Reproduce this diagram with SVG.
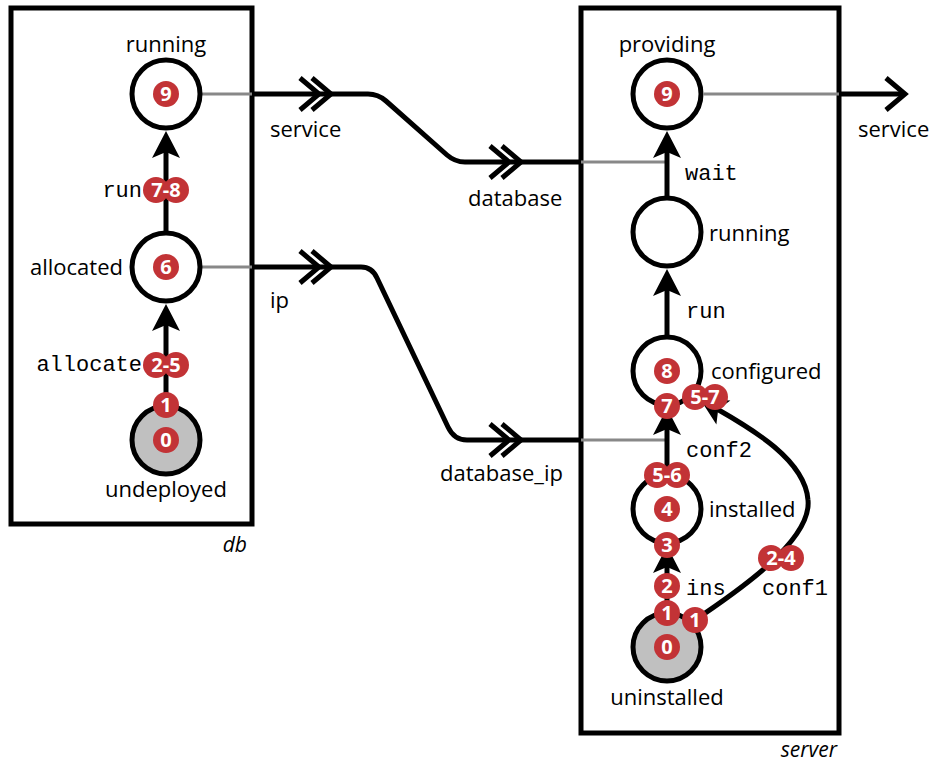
<svg xmlns="http://www.w3.org/2000/svg" xmlns:xlink="http://www.w3.org/1999/xlink" width="929" height="762" viewBox="0 0 929 762">
<defs>
<style>
.box{fill:none;stroke:#000;stroke-width:5}
.st{fill:#fff;stroke:#000;stroke-width:5}
.st0{fill:#c0c0c0;stroke:#000;stroke-width:5}
.edge{fill:none;stroke:#000;stroke-width:5}
.gray{fill:none;stroke:#888;stroke-width:3}
.chev{fill:none;stroke:#000;stroke-width:5;stroke-miterlimit:10}
.lbl{font-family:"Open Sans","Noto Sans",sans-serif;font-size:22px;fill:#000}
.mono{font-family:"Liberation Mono","DejaVu Sans Mono",monospace;font-size:22px;fill:#000}
.it{font-family:"Open Sans","Noto Sans",sans-serif;font-size:21px;font-style:italic;fill:#000}
.bd{fill:#c23336}
.bt{font-family:"Open Sans","Noto Sans",sans-serif;font-size:20px;font-weight:bold;fill:#fff;text-anchor:middle}
</style>
<path id="ah" d="M0,0 L-27,-14 L-21,0 L-27,14 Z" fill="#000"/>
<path id="ch" class="chev" d="M-19,-16 L0,0 L-19,16"/>
</defs>
<rect width="929" height="762" fill="#fff"/>

<!-- component boxes -->
<g id="db">
<rect class="box" x="11" y="8" width="241" height="516"/>
<text class="it" x="247" y="552" text-anchor="end">db</text>
</g>
<g id="server">
<rect class="box" x="581" y="8" width="258" height="725"/>
<text class="it" x="837" y="757" text-anchor="end">server</text>
</g>

<!-- connectors -->
<g id="connectors">
<line class="gray" x1="202" y1="94" x2="252" y2="94"/>
<line class="gray" x1="202" y1="267" x2="252" y2="267"/>
<line class="gray" x1="581" y1="162" x2="667" y2="162"/>
<line class="gray" x1="581" y1="440" x2="667" y2="440"/>
<line class="gray" x1="704" y1="94" x2="839" y2="94"/>

<path class="edge" d="M252,94 H368 Q378,94 386,101 L447,155 Q455,162 465,162 H581"/>
<use xlink:href="#ch" transform="translate(319,94)"/>
<use xlink:href="#ch" transform="translate(331,94)"/>
<use xlink:href="#ch" transform="translate(509,162)"/>
<use xlink:href="#ch" transform="translate(521,162)"/>

<path class="edge" d="M252,267 H361 Q372,267 377,278 L448,427 Q454,440 467,440 H581"/>
<use xlink:href="#ch" transform="translate(319,267)"/>
<use xlink:href="#ch" transform="translate(331,267)"/>
<use xlink:href="#ch" transform="translate(509,440)"/>
<use xlink:href="#ch" transform="translate(521,440)"/>

<path class="edge" d="M839,94 H905"/>
<use xlink:href="#ch" transform="translate(905,94)"/>

<!-- db transitions -->
<line class="edge" x1="166" y1="231" x2="166" y2="150"/>
<use xlink:href="#ah" transform="translate(166,131) rotate(-90)"/>
<line class="edge" x1="166" y1="404" x2="166" y2="324"/>
<use xlink:href="#ah" transform="translate(166,304) rotate(-90)"/>

<!-- server transitions -->
<line class="edge" x1="667" y1="196" x2="667" y2="150"/>
<use xlink:href="#ah" transform="translate(667,131) rotate(-90)"/>
<line class="edge" x1="667" y1="335" x2="667" y2="288"/>
<use xlink:href="#ah" transform="translate(667,269) rotate(-90)"/>
<line class="edge" x1="667" y1="473" x2="667" y2="427"/>
<use xlink:href="#ah" transform="translate(667,408) rotate(-90)"/>
<line class="edge" x1="667" y1="611" x2="667" y2="565"/>
<use xlink:href="#ah" transform="translate(667,546) rotate(-90)"/>
<path class="edge" d="M692,622 C740,590 812,540 808,500 C805,460 752,429 717,409"/>
<use xlink:href="#ah" transform="translate(700,399) rotate(210)"/>

<!-- connector / transition labels -->
<text class="lbl" x="270" y="137">service</text>
<text class="lbl" x="468" y="206">database</text>
<text class="lbl" x="270" y="308">ip</text>
<text class="lbl" x="440" y="481">database_ip</text>
<text class="lbl" x="858" y="137">service</text>
<text class="mono" x="142" y="197" text-anchor="end">run</text>
<text class="mono" x="142" y="371" text-anchor="end">allocate</text>
<text class="mono" x="685" y="180">wait</text>
<text class="mono" x="686" y="318">run</text>
<text class="mono" x="686" y="457">conf2</text>
<text class="mono" x="686" y="595">ins</text>
<text class="mono" x="762" y="595">conf1</text>
</g>

<!-- db places -->
<g id="db-running">
<circle class="st" cx="166" cy="94" r="34"/>
<text class="lbl" x="166" y="52" text-anchor="middle">running</text>
<circle class="bd" cx="166" cy="94" r="13"/><text class="bt" x="166" y="101">9</text>
</g>
<g id="db-allocated">
<circle class="st" cx="166" cy="267" r="34"/>
<text class="lbl" x="123" y="275" text-anchor="end">allocated</text>
<circle class="bd" cx="166" cy="267" r="13"/><text class="bt" x="166" y="274">6</text>
</g>
<g id="db-undeployed">
<circle class="st0" cx="166" cy="440" r="34"/>
<text class="lbl" x="166" y="497" text-anchor="middle">undeployed</text>
<circle class="bd" cx="166" cy="440" r="13"/><text class="bt" x="166" y="447">0</text>
</g>

<!-- server places -->
<g id="server-providing">
<circle class="st" cx="667" cy="94" r="34"/>
<text class="lbl" x="667" y="52" text-anchor="middle">providing</text>
<circle class="bd" cx="667" cy="94" r="13"/><text class="bt" x="667" y="101">9</text>
</g>
<g id="server-running">
<circle class="st" cx="667" cy="232" r="34"/>
<text class="lbl" x="709" y="241">running</text>
</g>
<g id="server-configured">
<circle class="st" cx="667" cy="371" r="34"/>
<text class="lbl" x="711" y="379">configured</text>
<circle class="bd" cx="667" cy="371" r="13"/><text class="bt" x="667" y="378">8</text>
</g>
<g id="server-installed">
<circle class="st" cx="667" cy="509" r="34"/>
<text class="lbl" x="709" y="517">installed</text>
<circle class="bd" cx="667" cy="509" r="13"/><text class="bt" x="667" y="516">4</text>
</g>
<g id="server-uninstalled">
<circle class="st0" cx="667" cy="647" r="34"/>
<text class="lbl" x="667" y="705" text-anchor="middle">uninstalled</text>
<circle class="bd" cx="667" cy="647" r="13"/><text class="bt" x="667" y="654">0</text>
</g>

<!-- badges on transitions -->
<g id="badges">
<circle class="bd" cx="156" cy="190" r="13"/><circle class="bd" cx="176" cy="190" r="13"/><text class="bt" x="166" y="197">7-8</text>
<circle class="bd" cx="156" cy="365" r="13"/><circle class="bd" cx="176" cy="365" r="13"/><text class="bt" x="166" y="372">2-5</text>
<circle class="bd" cx="166" cy="405" r="13"/><text class="bt" x="166" y="412">1</text>

<circle class="bd" cx="667" cy="406" r="13"/><text class="bt" x="667" y="413">7</text>
<circle class="bd" cx="695" cy="397" r="13"/><circle class="bd" cx="715" cy="397" r="13"/><text class="bt" x="705" y="404">5-7</text>
<circle class="bd" cx="657" cy="475" r="13"/><circle class="bd" cx="677" cy="475" r="13"/><text class="bt" x="667" y="482">5-6</text>
<circle class="bd" cx="667" cy="545" r="13"/><text class="bt" x="667" y="552">3</text>
<circle class="bd" cx="667" cy="586" r="13"/><text class="bt" x="667" y="593">2</text>
<circle class="bd" cx="667" cy="613" r="13"/><text class="bt" x="667" y="620">1</text>
<circle class="bd" cx="695" cy="620" r="13"/><text class="bt" x="695" y="627">1</text>
<circle class="bd" cx="771" cy="558" r="13"/><circle class="bd" cx="791" cy="558" r="13"/><text class="bt" x="781" y="565">2-4</text>
</g>
</svg>
